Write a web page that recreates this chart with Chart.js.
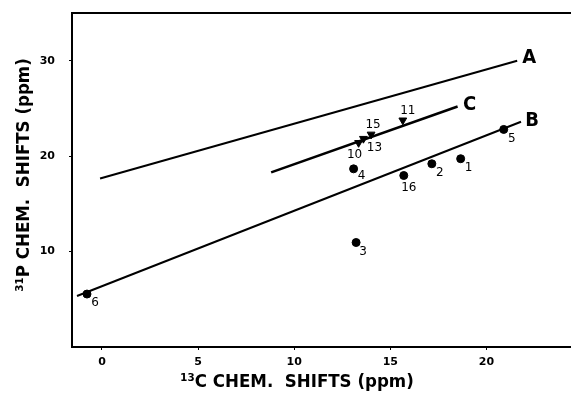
<!DOCTYPE html>
<html>
<head>
<meta charset="utf-8">
<script src="https://cdn.jsdelivr.net/npm/chart.js@4/dist/chart.umd.min.js"></script>
<style>
  html, body { margin: 0; padding: 0; background: #fff; }
  #wrap { width: 571px; height: 398px; }
</style>
</head>
<body>
<div id="wrap"><canvas id="chart" width="571" height="398"></canvas></div>
<script>
// Axis ranges and ticks
const xTicks = [0, 5, 10, 15, 20];
const yTicks = [10, 20, 30];
const xRange = [-1.56, 24.4];
const yRange = [0, 35];

// Measured compounds (13C shift, 31P shift)
const circleIds = ['1', '2', '3', '4', '5', '6', '16'];
const circleX = [18.66, 17.16, 13.22, 13.09, 20.9, -0.78, 15.7];
const circleY = [19.73, 19.2, 10.95, 18.67, 22.8, 5.55, 17.97];

const triangleIds = ['10', '11', '13', '15'];
const triangleX = [13.35, 15.65, 13.6, 14.0];
const triangleY = [21.4, 23.76, 21.83, 22.28];

// Correlation lines (start / end)
const lineNames = ['A', 'B', 'C'];
const lineX = [[-0.1, 21.6], [-1.3, 21.8], [8.8, 18.5]];
const lineY = [[17.65, 30.0], [5.35, 23.6], [18.3, 25.2]];

// Label placement, pixels from the mark
const pointLabelOffsets = {
  '1': [8, 9], '2': [8, 9], '3': [7, 9], '4': [8, 7], '5': [8, 9], '6': [8, 9], '16': [5, 12],
  '10': [-4, 12], '11': [5, -9], '13': [11, 9], '15': [2, -10]
};
const lineLabelOffsets = { A: [12, -3], B: [11, -1], C: [12, -2] };

const titleFont = 'bold 18.5px "DejaVu Sans Condensed", "Liberation Sans Narrow", "DejaVu Sans", sans-serif';

function toPoints(xs, ys) {
  return xs.map((x, i) => ({ x: x, y: ys[i] }));
}

// no automatic label padding, the frame is placed by hand
function noPad(s) {
  s.paddingTop = 0;
  s.paddingBottom = 0;
  s.paddingLeft = 0;
  s.paddingRight = 0;
}

const lineDatasets = lineNames.map((name, i) => ({
  label: 'Line ' + name,
  type: 'line',
  data: toPoints(lineX[i], lineY[i]),
  borderColor: '#000',
  borderWidth: name === 'C' ? 2.6 : 2,
  pointRadius: 0,
  fill: false
}));

// Draws the numbers beside points, the A/B/C tags and the axis titles
const annotate = {
  id: 'annotate',
  afterDatasetsDraw(chart) {
    const ctx = chart.ctx;
    const xs = chart.scales.x;
    const ys = chart.scales.y;
    ctx.save();
    ctx.fillStyle = '#000';
    ctx.textAlign = 'center';
    ctx.textBaseline = 'middle';

    ctx.font = '12px "DejaVu Sans", sans-serif';
    const put = (ids, xv, yv) => ids.forEach((id, i) => {
      const off = pointLabelOffsets[id];
      ctx.fillText(id, xs.getPixelForValue(xv[i]) + off[0], ys.getPixelForValue(yv[i]) + off[1]);
    });
    put(circleIds, circleX, circleY);
    put(triangleIds, triangleX, triangleY);

    ctx.font = 'bold 20px "DejaVu Sans Condensed", "Liberation Sans Narrow", "DejaVu Sans", sans-serif';
    lineNames.forEach((name, i) => {
      const off = lineLabelOffsets[name];
      ctx.fillText(name, xs.getPixelForValue(lineX[i][1]) + off[0], ys.getPixelForValue(lineY[i][1]) + off[1]);
    });

    ctx.font = titleFont;
    ctx.fillText('\u00B9\u00B3C CHEM.  SHIFTS (ppm)', 297, 382);
    ctx.translate(24, 175);
    ctx.rotate(-Math.PI / 2);
    ctx.fillText('\u00B3\u00B9P CHEM.  SHIFTS (ppm)', 0, 0);
    ctx.restore();
  }
};

new Chart(document.getElementById('chart'), {
  type: 'scatter',
  data: {
    datasets: [
      ...lineDatasets,
      {
        label: 'circles',
        data: toPoints(circleX, circleY),
        backgroundColor: '#000',
        borderColor: '#000',
        pointStyle: 'circle',
        pointRadius: 4
      },
      {
        label: 'triangles',
        data: toPoints(triangleX, triangleY),
        backgroundColor: '#000',
        borderColor: '#000',
        pointStyle: 'triangle',
        rotation: 180,
        pointRadius: 4.5
      }
    ]
  },
  options: {
    responsive: false,
    animation: false,
    layout: { autoPadding: false, padding: { top: 13, right: 0, left: 0, bottom: 0 } },
    plugins: { legend: { display: false }, tooltip: { enabled: false } },
    scales: {
      x: {
        type: 'linear',
        min: xRange[0],
        max: xRange[1],
        afterBuildTicks: s => { s.ticks = xTicks.map(v => ({ value: v })); },
        afterFit: s => { s.height = 51; noPad(s); },
        grid: { drawOnChartArea: false, tickLength: 3, color: '#000' },
        border: { color: '#000', width: 2 },
        ticks: {
          color: '#000',
          padding: 6,
          maxRotation: 0,
          font: { family: 'DejaVu Sans', size: 11, weight: 'bold' }
        }
      },
      top: {
        type: 'linear',
        position: 'top',
        min: xRange[0],
        max: xRange[1],
        afterFit: s => { s.height = 0; noPad(s); },
        grid: { display: false },
        border: { color: '#000', width: 2 },
        ticks: { display: false }
      },
      y: {
        type: 'linear',
        min: yRange[0],
        max: yRange[1],
        afterBuildTicks: s => { s.ticks = yTicks.map(v => ({ value: v })); },
        afterFit: s => { s.width = 72; noPad(s); },
        grid: { drawOnChartArea: false, tickLength: 3, color: '#000' },
        border: { color: '#000', width: 2 },
        ticks: {
          color: '#000',
          padding: 14,
          font: { family: 'DejaVu Sans', size: 11, weight: 'bold' }
        }
      }
    }
  },
  plugins: [annotate]
});
</script>
</body>
</html>
